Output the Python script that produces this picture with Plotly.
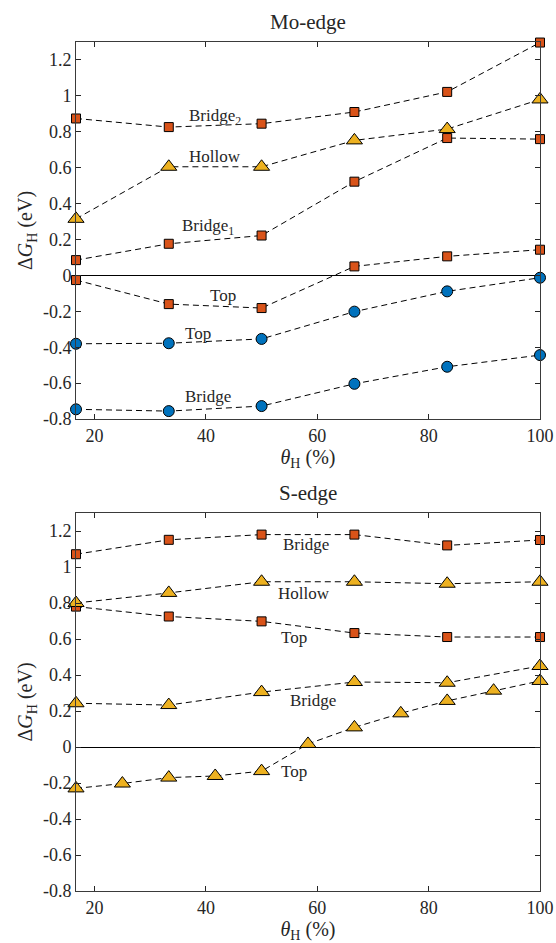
import plotly.graph_objects as go

# ---------------- data ----------------
x6 = [16.67, 33.33, 50, 66.67, 83.33, 100]
x11 = [16.67, 25, 33.33, 41.67, 50, 58.33, 66.67, 75, 83.33, 91.67, 100]

# Mo-edge
mo_bridge2_sq = [0.874, 0.826, 0.845, 0.91, 1.022, 1.297]
mo_hollow_tri = [0.315, 0.605, 0.605, 0.752, 0.815, 0.98]
mo_bridge1_sq = [0.085, 0.176, 0.222, 0.522, 0.765, 0.759]
mo_top_sq = [-0.026, -0.16, -0.182, 0.05, 0.106, 0.143]
mo_top_ci = [-0.381, -0.378, -0.354, -0.202, -0.089, -0.013]
mo_bridge_ci = [-0.746, -0.756, -0.728, -0.604, -0.509, -0.444]

# S-edge
s_bridge_sq = [1.071, 1.151, 1.18, 1.18, 1.12, 1.15]
s_hollow_tri = [0.80, 0.856, 0.918, 0.918, 0.907, 0.918]
s_top_sq = [0.78, 0.725, 0.698, 0.633, 0.611, 0.611]
s_bridge_tri = [0.243, 0.233, 0.305, 0.361, 0.357, 0.45]
s_top_tri = [-0.23, -0.203, -0.17, -0.161, -0.134, 0.017, 0.109, 0.187, 0.256, 0.313, 0.367]

y_tickvals = [-0.8, -0.6, -0.4, -0.2, 0, 0.2, 0.4, 0.6, 0.8, 1.0, 1.2]
y_ticktext = ["-0.8", "-0.6", "-0.4", "-0.2", "0", "0.2", "0.4", "0.6", "0.8", "1", "1.2"]
x_tickvals = [20, 40, 60, 80, 100]
x_ticktext = ["20", "40", "60", "80", "100"]

# ---------------- style ----------------
FONT = "Liberation Serif, Times New Roman, DejaVu Serif, serif"
C_SQ = "#D95319"
C_TRI = "#EDB120"
C_CI = "#0072BD"
TXT = "#262626"

MARK = {
    "sq": dict(symbol="square", size=9, color=C_SQ),
    "tri": dict(symbol="triangle-up", size=14, color=C_TRI),
    "ci": dict(symbol="circle", size=11, color=C_CI),
}

fig = go.Figure()


def add(xs, ys, kind, axis):
    m = dict(MARK[kind])
    m["line"] = dict(color="black", width=1)
    fig.add_trace(go.Scatter(
        x=xs, y=ys, mode="lines+markers",
        line=dict(color="black", width=1, dash="6px,4px"),
        marker=m, showlegend=False, cliponaxis=False,
        xaxis="x" if axis == 1 else "x2",
        yaxis="y" if axis == 1 else "y2",
    ))


# Mo-edge (top)
add(x6, mo_bridge2_sq, "sq", 1)
add(x6, mo_hollow_tri, "tri", 1)
add(x6, mo_bridge1_sq, "sq", 1)
add(x6, mo_top_sq, "sq", 1)
add(x6, mo_top_ci, "ci", 1)
add(x6, mo_bridge_ci, "ci", 1)

# S-edge (bottom)
add(x6, s_bridge_sq, "sq", 2)
add(x6, s_top_sq, "sq", 2)
add(x6, s_hollow_tri, "tri", 2)
add(x6, s_bridge_tri, "tri", 2)
add(x11, s_top_tri, "tri", 2)

H = 943
W = 556
ml, mr, mt, mb = 76, 16, 42, 52
ph = H - mt - mb
top_dom = [1 - 377 / ph, 1]
bot_dom = [0, 378 / ph]

axis_common = dict(
    showgrid=False, ticks="inside", ticklen=5, tickwidth=1, tickcolor=TXT,
    showline=True, linecolor="#3a3a3a", linewidth=1, mirror="ticks",
    tickfont=dict(family=FONT, size=18, color=TXT), automargin=False,
)

xa = dict(axis_common, range=[16.67, 100], tickvals=x_tickvals, ticktext=x_ticktext,
          zeroline=False)
ya = dict(axis_common, range=[-0.8, 1.3], tickvals=y_tickvals, ticktext=y_ticktext,
          zeroline=True, zerolinecolor="black", zerolinewidth=1)

ytitle = "Δ<i>G</i><sub>H</sub> (eV)"
xtitle = "<i>θ</i><sub>H</sub> (%)"
title_font = dict(family=FONT, size=20, color=TXT)
head_font = dict(family=FONT, size=21, color=TXT)

fig.update_layout(
    width=W, height=H,
    margin=dict(l=ml, r=mr, t=mt, b=mb),
    paper_bgcolor="white", plot_bgcolor="white",
    font=dict(family=FONT, color=TXT),
    xaxis=dict(xa, domain=[0, 1], anchor="y",
               title=dict(text=xtitle, font=title_font, standoff=5)),
    yaxis=dict(ya, domain=top_dom, anchor="x",
               title=dict(text=ytitle, font=title_font, standoff=4)),
    xaxis2=dict(xa, domain=[0, 1], anchor="y2",
                title=dict(text=xtitle, font=title_font, standoff=5)),
    yaxis2=dict(ya, domain=bot_dom, anchor="x2",
                title=dict(text=ytitle, font=title_font, standoff=4)),
)

lab_font = dict(family=FONT, size=17, color=TXT)
labels_top = [
    ("Bridge<sub>2</sub>", 41.6, 0.885),
    ("Hollow", 41.6, 0.66),
    ("Bridge<sub>1</sub>", 40.3, 0.27),
    ("Top", 43.1, -0.114),
    ("Top", 38.6, -0.325),
    ("Bridge", 40.3, -0.672),
]
labels_bot = [
    ("Bridge", 58.0, 1.127),
    ("Hollow", 57.6, 0.852),
    ("Top", 55.8, 0.611),
    ("Bridge", 59.2, 0.261),
    ("Top", 55.8, -0.137),
]
for t, x, y in labels_top:
    fig.add_annotation(text=t, x=x, y=y, xref="x", yref="y", showarrow=False, font=lab_font)
for t, x, y in labels_bot:
    fig.add_annotation(text=t, x=x, y=y, xref="x2", yref="y2", showarrow=False, font=lab_font)

# panel titles
fig.add_annotation(text="Mo-edge", x=0.5, y=top_dom[1], xref="paper", yref="paper",
                   yanchor="bottom", yshift=6, showarrow=False, font=head_font)
fig.add_annotation(text="S-edge", x=0.5, y=bot_dom[1], xref="paper", yref="paper",
                   yanchor="bottom", yshift=6, showarrow=False, font=head_font)

fig.write_html("out.html", post_script="document.body.style.margin='0';",
               config={"displayModeBar": False})
